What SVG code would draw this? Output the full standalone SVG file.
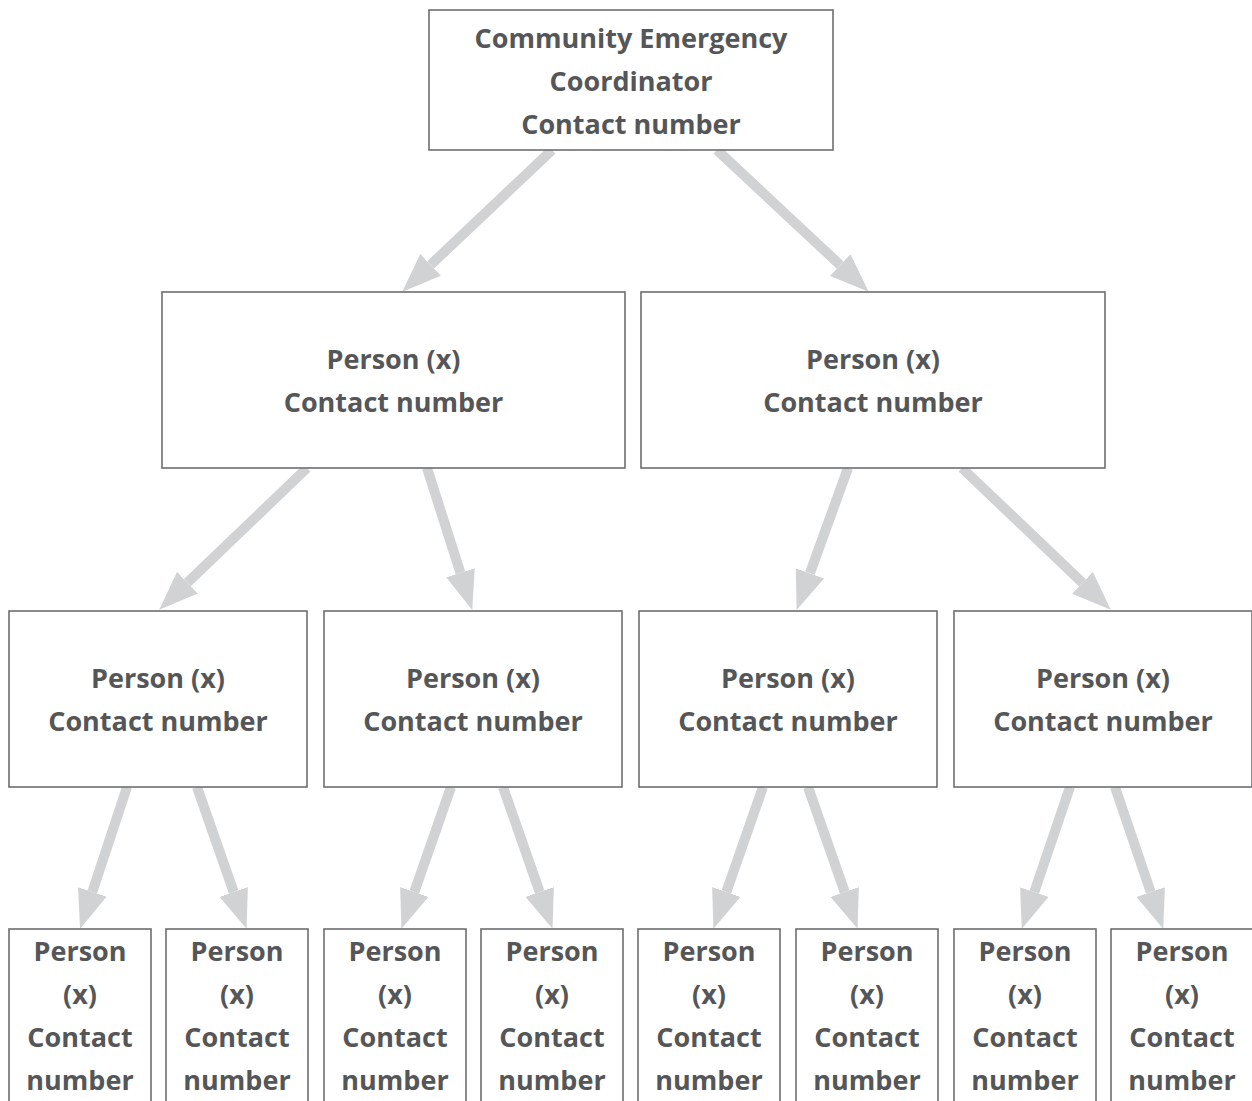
<svg xmlns="http://www.w3.org/2000/svg" width="1252" height="1101" viewBox="0 0 1252 1101">
<style>
.box{fill:#fff;stroke:#6d6e70;stroke-width:1.6}
.t{font-family:"Open Sans","Liberation Sans",sans-serif;font-weight:700;font-size:27px;fill:#555658;text-anchor:middle}
.c{stroke:#d1d2d4;stroke-width:10;fill:none;marker-end:url(#ah)}
</style>
<defs>
<marker id="ah" markerUnits="userSpaceOnUse" markerWidth="40" markerHeight="30" refX="0" refY="15" orient="auto" viewBox="0 0 40 30">
<path d="M0,0 L39,15 L0,30 z" fill="#d1d2d4"/>
</marker>
</defs>
<rect width="1252" height="1101" fill="#fff"/>
<g id="connectors">
<line class="c" x1="552" y1="150" x2="430.6" y2="264.9"/>
<line class="c" x1="717" y1="150" x2="840.2" y2="265.1"/>
<line class="c" x1="307" y1="468" x2="187.4" y2="582.7"/>
<line class="c" x1="427" y1="468" x2="460.4" y2="572.8"/>
<line class="c" x1="848" y1="468" x2="809.9" y2="573.3"/>
<line class="c" x1="962" y1="468" x2="1082.5" y2="582.8"/>
<line class="c" x1="127" y1="787" x2="92.3" y2="892"/>
<line class="c" x1="197" y1="787" x2="233.7" y2="892"/>
<line class="c" x1="451" y1="787" x2="414.3" y2="892"/>
<line class="c" x1="503" y1="787" x2="539.7" y2="892"/>
<line class="c" x1="763" y1="787" x2="726.3" y2="892"/>
<line class="c" x1="808" y1="787" x2="844.7" y2="892"/>
<line class="c" x1="1070" y1="787" x2="1034.3" y2="892"/>
<line class="c" x1="1115" y1="787" x2="1150.7" y2="892"/>
</g>
<g id="coordinator">
<rect class="box" x="429" y="10" width="404" height="140"/>
<text class="t" x="631" y="48">Community Emergency</text>
<text class="t" x="631" y="91">Coordinator</text>
<text class="t" x="631" y="134">Contact number</text>
</g>
<g id="l2a"><rect class="box" x="162" y="292" width="463" height="176"/><text class="t" x="393.5" y="369">Person (x)</text><text class="t" x="393.5" y="412">Contact number</text></g>
<g id="l2b"><rect class="box" x="641" y="292" width="464" height="176"/><text class="t" x="873" y="369">Person (x)</text><text class="t" x="873" y="412">Contact number</text></g>
<g id="l3a"><rect class="box" x="9" y="611" width="298" height="176"/><text class="t" x="158" y="688">Person (x)</text><text class="t" x="158" y="731">Contact number</text></g>
<g id="l3b"><rect class="box" x="324" y="611" width="298" height="176"/><text class="t" x="473" y="688">Person (x)</text><text class="t" x="473" y="731">Contact number</text></g>
<g id="l3c"><rect class="box" x="639" y="611" width="298" height="176"/><text class="t" x="788" y="688">Person (x)</text><text class="t" x="788" y="731">Contact number</text></g>
<g id="l3d"><rect class="box" x="954" y="611" width="298" height="176"/><text class="t" x="1103" y="688">Person (x)</text><text class="t" x="1103" y="731">Contact number</text></g>
<g id="l4a"><rect class="box" x="9" y="929" width="142" height="190"/><text class="t" x="80" y="961">Person</text><text class="t" x="80" y="1004">(x)</text><text class="t" x="80" y="1047">Contact</text><text class="t" x="80" y="1090">number</text></g>
<g id="l4b"><rect class="box" x="166" y="929" width="142" height="190"/><text class="t" x="237" y="961">Person</text><text class="t" x="237" y="1004">(x)</text><text class="t" x="237" y="1047">Contact</text><text class="t" x="237" y="1090">number</text></g>
<g id="l4c"><rect class="box" x="324" y="929" width="142" height="190"/><text class="t" x="395" y="961">Person</text><text class="t" x="395" y="1004">(x)</text><text class="t" x="395" y="1047">Contact</text><text class="t" x="395" y="1090">number</text></g>
<g id="l4d"><rect class="box" x="481" y="929" width="142" height="190"/><text class="t" x="552" y="961">Person</text><text class="t" x="552" y="1004">(x)</text><text class="t" x="552" y="1047">Contact</text><text class="t" x="552" y="1090">number</text></g>
<g id="l4e"><rect class="box" x="638" y="929" width="142" height="190"/><text class="t" x="709" y="961">Person</text><text class="t" x="709" y="1004">(x)</text><text class="t" x="709" y="1047">Contact</text><text class="t" x="709" y="1090">number</text></g>
<g id="l4f"><rect class="box" x="796" y="929" width="142" height="190"/><text class="t" x="867" y="961">Person</text><text class="t" x="867" y="1004">(x)</text><text class="t" x="867" y="1047">Contact</text><text class="t" x="867" y="1090">number</text></g>
<g id="l4g"><rect class="box" x="954" y="929" width="142" height="190"/><text class="t" x="1025" y="961">Person</text><text class="t" x="1025" y="1004">(x)</text><text class="t" x="1025" y="1047">Contact</text><text class="t" x="1025" y="1090">number</text></g>
<g id="l4h"><rect class="box" x="1111" y="929" width="142" height="190"/><text class="t" x="1182" y="961">Person</text><text class="t" x="1182" y="1004">(x)</text><text class="t" x="1182" y="1047">Contact</text><text class="t" x="1182" y="1090">number</text></g>
</svg>
